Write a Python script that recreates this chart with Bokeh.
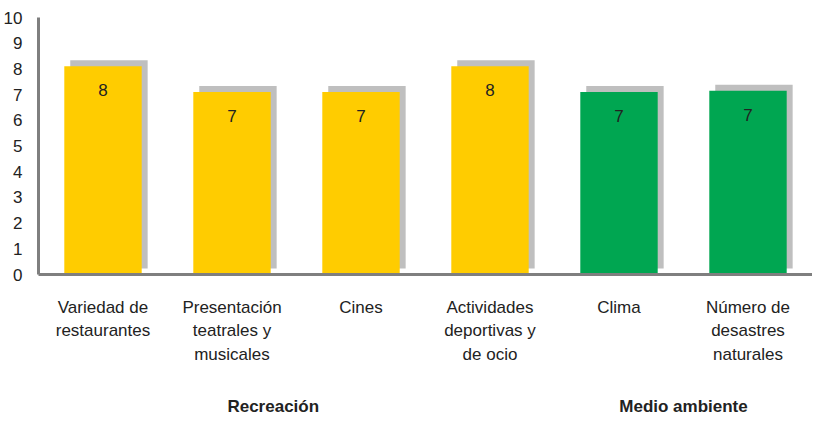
from bokeh.plotting import figure
from bokeh.models import ColumnDataSource, Range1d, LinearAxis, FixedTicker
from bokeh.core.properties import value
from bokeh.embed import file_html
from bokeh.resources import INLINE

# ---- data ----
categories = [
    "Variedad de\nrestaurantes",
    "Presentación\nteatrales y\nmusicales",
    "Cines",
    "Actividades\ndeportivas y\nde ocio",
    "Clima",
    "Número de\ndesastres\nnaturales",
]
scores = [8.1, 7.1, 7.1, 8.1, 7.1, 7.15]
groups = ["Recreación", "Recreación", "Recreación", "Recreación",
          "Medio ambiente", "Medio ambiente"]
group_names = ["Recreación", "Medio ambiente"]
y_ticks = list(range(0, 11))

# ---- style ----
FONT = "Liberation Sans"
group_colors = {"Recreación": "#FFCC00", "Medio ambiente": "#00A651"}
shadow_color = "#BFBFBF"
axis_color = "#7F7F7F"
text_color = "#222222"
W, H = 812, 418
BL, BR, BT, BB = 32, 0, 17, 143
px_per_unit_y = (H - BT - BB) / 10.0
px_per_cat = (W - BL - BR) / len(categories)
shadow_px = 6
bar_width = 0.6
group_label_nudge = {"Recreación": -0.18, "Medio ambiente": 0.0}

pos = [i + 0.5 for i in range(len(categories))]
src = ColumnDataSource(dict(
    x=pos,
    xs=[x + shadow_px / px_per_cat for x in pos],
    score=scores,
    shadow_top=[s + shadow_px / px_per_unit_y for s in scores],
    shadow_bottom=[shadow_px / px_per_unit_y] * len(scores),
    color=[group_colors[g] for g in groups],
    label=[str(int(round(s))) for s in scores],
))

p = figure(x_range=Range1d(0, len(categories)), y_range=(0, 10),
           width=W, height=H, output_backend="svg", toolbar_location=None,
           x_axis_location=None,
           min_border_left=BL, min_border_right=BR, min_border_top=BT,
           min_border_bottom=BB)
p.outline_line_color = None
p.grid.grid_line_color = None
p.background_fill_color = "white"

# shadows
p.vbar(x="xs", top="shadow_top", bottom="shadow_bottom", width=bar_width,
       source=src, fill_color=shadow_color, line_color=None)
# bars
p.vbar(x="x", top="score", bottom=0, width=bar_width, source=src,
       fill_color="color", line_color=None)
# value labels
p.text(x="x", y="score", text="label", source=src, y_offset=24,
       text_align="center", text_baseline="middle",
       text_font=value(FONT), text_font_size="17px", text_color=text_color)

# category axis
xax = LinearAxis(ticker=FixedTicker(ticks=pos),
                 major_label_overrides={x: c for x, c in zip(pos, categories)},
                 axis_line_color=axis_color, axis_line_width=3,
                 major_tick_line_color=None, minor_tick_line_color=None,
                 major_label_text_font=FONT, major_label_text_font_size="17px",
                 major_label_text_color=text_color,
                 major_label_text_line_height=1.25,
                 major_label_standoff=17)
p.add_layout(xax, "below")

# y axis
yax = p.yaxis[0]
yax.ticker = y_ticks
yax.axis_line_color = axis_color
yax.axis_line_width = 3
yax.major_tick_line_color = None
yax.minor_tick_line_color = None
yax.major_label_text_font = FONT
yax.major_label_text_font_size = "17px"
yax.major_label_text_color = text_color
yax.major_label_standoff = 10

# group labels on a second axis
centers = []
for g in group_names:
    idx = [i for i, gg in enumerate(groups) if gg == g]
    centers.append((pos[min(idx)] + pos[max(idx)]) / 2.0 + group_label_nudge[g])
gax = LinearAxis(ticker=FixedTicker(ticks=centers),
                 major_label_overrides={c: g for c, g in zip(centers, group_names)},
                 axis_line_color=None, major_tick_line_color=None,
                 minor_tick_line_color=None,
                 major_label_text_font=FONT, major_label_text_font_style="bold",
                 major_label_text_font_size="17px",
                 major_label_text_color=text_color,
                 major_label_standoff=23)
p.add_layout(gax, "below")

open("out.html", "w").write(file_html(p, INLINE))
